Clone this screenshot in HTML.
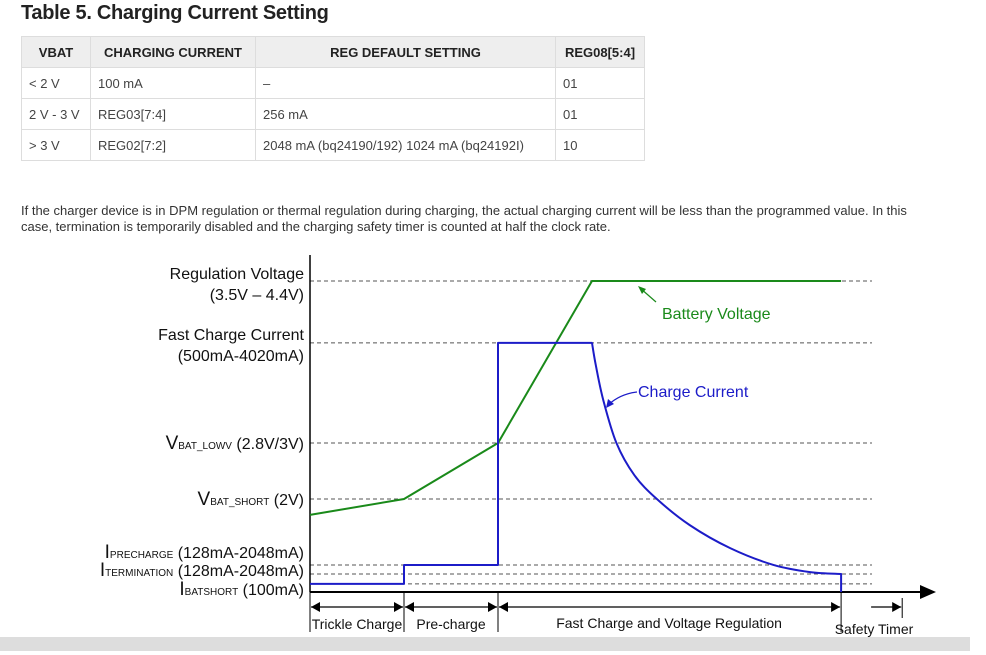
<!DOCTYPE html>
<html><head><meta charset="utf-8"><style>
body{margin:0;width:986px;height:655px;background:#fff;font-family:"Liberation Sans",Arial,sans-serif;position:relative;overflow:hidden}
h1{position:absolute;left:21px;top:2px;margin:0;font-size:20px;font-weight:bold;color:#222;letter-spacing:-0.3px}
table{position:absolute;left:21px;top:36px;border-collapse:collapse;font-size:13px;color:#444}
td,th{border:1px solid #ddd;padding:0 7px;height:30px;text-align:left;white-space:nowrap}
th{background:#eee;color:#222;font-weight:bold;text-align:center}
p{position:absolute;left:21px;top:203px;margin:0;font-size:13px;line-height:16px;color:#333;white-space:nowrap}
svg{position:absolute;left:0;top:0}
.bar{position:absolute;left:0;top:637px;width:970px;height:14px;background:#ddd}
</style></head><body>
<h1>Table 5. Charging Current Setting</h1>
<table>
<tr><th style="width:54px">VBAT</th><th style="width:150px">CHARGING CURRENT</th><th style="width:285px">REG DEFAULT SETTING</th><th style="width:74px">REG08[5:4]</th></tr>
<tr><td>&lt; 2 V</td><td>100 mA</td><td>–</td><td>01</td></tr>
<tr><td>2 V - 3 V</td><td>REG03[7:4]</td><td>256 mA</td><td>01</td></tr>
<tr><td>&gt; 3 V</td><td>REG02[7:2]</td><td>2048 mA (bq24190/192) 1024 mA (bq24192I)</td><td>10</td></tr>
</table>
<p>If the charger device is in DPM regulation or thermal regulation during charging, the actual charging current will be less than the programmed value. In this<br>case, termination is temporarily disabled and the charging safety timer is counted at half the clock rate.</p>
<div class="bar"></div>
<svg id="chart" width="986" height="655" font-family="Liberation Sans, Arial, sans-serif"></svg>
<script>
const levelNames=["regulation","fast","lowv","short","precharge","termination","batshort"];
const levelValues=[100,80.1,47.9,29.9,8.7,5.8,2.6];
const timePoints=[0,1,2,3,5.65];
const voltageValues=[24.8,29.9,47.9,100,100];
const stepTimes=[0,1,1,2,2,3];
const stepValues=[2.6,2.6,8.7,8.7,80.1,80.1];
const decayTimes=[3,3.04,3.12,3.26,3.45,3.69,4.04,4.47,4.93,5.32,5.65];
const decayValues=[80.1,73,61.7,47.9,37.6,29.9,21.5,14.1,8.7,6.4,5.8];
const endTime=5.65;
const phaseTimes=[0,1,2,5.65,6.3];
const phaseLabels=["Trickle Charge","Pre-charge","Fast Charge and Voltage Regulation","Safety Timer"];

const svg=document.getElementById('chart');
const NS='http://www.w3.org/2000/svg';
const x0=310,xUnit=94,y0=592,yTop=281;
function xScale(t){return x0+t*xUnit;}
function yScale(v){return y0-(y0-yTop)*v/100;}
function mk(tag,attrs,parent){const e=document.createElementNS(NS,tag);for(const k in attrs)e.setAttribute(k,attrs[k]);(parent||svg).appendChild(e);return e;}

levelValues.forEach((v,i)=>{
  const l=mk('line',{x1:x0,x2:872,y1:yScale(v),y2:yScale(v),stroke:'#555','stroke-width':1,'stroke-dasharray':'4,3'});
  
  
});
let ax=mk('line',{x1:x0,x2:x0,y1:255,y2:y0,stroke:'#000','stroke-width':1.5});


let xa=mk('line',{x1:x0,x2:922,y1:y0,y2:y0,stroke:'#000','stroke-width':2});


let ah=mk('polygon',{points:'920,585 936,592 920,599',fill:'#000'});



function label(yb,parts,name){
  const t=mk('text',{x:304,y:yb,'text-anchor':'end',fill:'#111','font-size':16});
  
  
  parts.forEach(p=>{const s=mk('tspan',{'font-size':p[1]},t);s.textContent=p[0];});
}
label(yScale(100)-2,[["Regulation Voltage",16]],'label-regulation-voltage');
label(yScale(100)+19,[["(3.5V – 4.4V)",16]],'label-regulation-range');
label(yScale(80.1)-3,[["Fast Charge Current",16]],'label-fast-charge-current');
label(yScale(80.1)+18,[["(500mA-4020mA)",16]],'label-fast-charge-range');
label(yScale(47.9)+6,[["V",19],["BAT_LOWV",10],[" (2.8V/3V)",16]],'label-vbat-lowv');
label(yScale(29.9)+6,[["V",19],["BAT_SHORT",10],[" (2V)",16]],'label-vbat-short');
label(558,[["I",19],["PRECHARGE",10],[" (128mA-2048mA)",16]],'label-iprecharge');
label(576,[["I",19],["TERMINATION",10],[" (128mA-2048mA)",16]],'label-itermination');
label(595,[["I",19],["BATSHORT",10],[" (100mA)",16]],'label-ibatshort');

function linePath(ts,vs){return ts.map((t,i)=>(i?'L':'M')+xScale(t)+','+yScale(vs[i])).join(' ');}
function smoothPath(ts,vs){
  const P=ts.map((t,i)=>[xScale(t),yScale(vs[i])]);
  let d='';
  for(let i=0;i<P.length-1;i++){
    const p0=P[i-1]||P[i],p1=P[i],p2=P[i+1],p3=P[i+2]||P[i+1];
    const c1=[p1[0]+(p2[0]-p0[0])/6,p1[1]+(p2[1]-p0[1])/6];
    const c2=[p2[0]-(p3[0]-p1[0])/6,p2[1]-(p3[1]-p1[1])/6];
    d+=' C'+c1.join(',')+' '+c2.join(',')+' '+p2.join(',');
  }
  return d;
}
let vl=mk('path',{d:linePath(timePoints,voltageValues),fill:'none',stroke:'#1a8a1a','stroke-width':2});


let cd=linePath(stepTimes,stepValues)+smoothPath(decayTimes,decayValues)+' L'+xScale(endTime)+','+yScale(0);
let cl=mk('path',{d:cd,fill:'none',stroke:'#1c1cc8','stroke-width':2,'stroke-linejoin':'round'});



let bv=mk('text',{x:662,y:319,fill:'#1a8a1a','font-size':16});bv.textContent='Battery Voltage';


mk('line',{x1:656,y1:302,x2:640,y2:288,stroke:'#1a8a1a','stroke-width':1.2});
mk('polygon',{points:'638,286 646,289 642,294',fill:'#1a8a1a'});
let cc=mk('text',{x:638,y:397,fill:'#1c1cc8','font-size':16});cc.textContent='Charge Current';


mk('path',{d:'M637,392 Q620,394 608,405',fill:'none',stroke:'#1c1cc8','stroke-width':1.2});
mk('polygon',{points:'606,408 608,399 614,404',fill:'#1c1cc8'});

phaseTimes.forEach((t,i)=>{
  const x=xScale(t);
  const len=(i===phaseTimes.length-1)?[598,618]:[592,632];
  const ln=mk('line',{x1:x,x2:x,y1:len[0],y2:len[1],stroke:'#000','stroke-width':1});
  
  
});
function arrow(xa,xb,name,oneWay){
  const g=mk('g',{});
  
  
  mk('line',{x1:xa,x2:xb,y1:607,y2:607,stroke:'#000','stroke-width':1.2},g);
  mk('polygon',{points:(xb-9)+',602 '+xb+',607 '+(xb-9)+',612',fill:'#000'},g);
  if(!oneWay)mk('polygon',{points:(xa+9)+',602 '+xa+',607 '+(xa+9)+',612',fill:'#000'},g);
}
for(let i=0;i<3;i++)arrow(xScale(phaseTimes[i])+1,xScale(phaseTimes[i+1])-1,'phase-arrow-'+i,false);
arrow(xScale(phaseTimes[3])+30,xScale(phaseTimes[4])-1,'phase-arrow-3',true);
const labX=[xScale(0)+47,xScale(1.5),xScale(3.82),xScale(6.0)];
const labY=[629,629,628,634];
phaseLabels.forEach((s,i)=>{
  const t=mk('text',{x:labX[i],y:labY[i],'text-anchor':'middle','font-size':14,fill:'#111'});
  t.textContent=s;
  
  
});
</script>
</body></html>
